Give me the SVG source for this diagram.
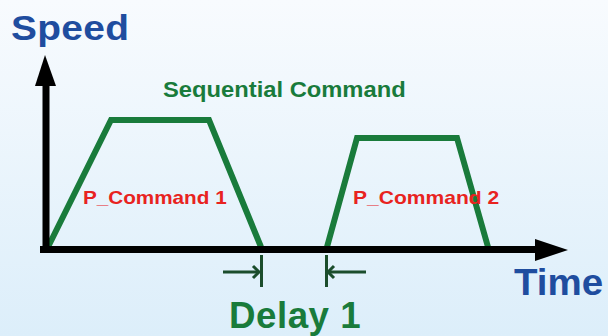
<svg xmlns="http://www.w3.org/2000/svg" width="608" height="336" viewBox="0 0 608 336">
<defs>
<linearGradient id="bg" x1="0" y1="0" x2="0" y2="1">
<stop offset="0" stop-color="#f8fbfe"/>
<stop offset="1" stop-color="#dceefa"/>
</linearGradient>
</defs>
<style>
.ax{fill:none;stroke:#000;stroke-width:7}
.ah{fill:#000}
.prof{fill:none;stroke:#197b3b;stroke-width:6;stroke-linejoin:miter}
.dm{fill:none;stroke:#1b4d2c;stroke-width:3}
.t{font-family:"Liberation Sans",Arial,sans-serif;font-weight:bold}
.blue{fill:#1f4d9f}
.green{fill:#197b3b}
.red{fill:#e8231f}
</style>
<rect width="608" height="336" fill="url(#bg)"/>
<g id="profile1">
<path class="prof" d="M48,247 L111,120 L209,120 L261,247"/>
</g>
<g id="profile2">
<path class="prof" d="M327,247 L357,138 L457,138 L488,247"/>
</g>
<g id="axes">
<line class="ax" x1="46" y1="253" x2="46" y2="82"/>
<polygon class="ah" points="45,55 35,86 56,86"/>
<line class="ax" x1="40" y1="249.5" x2="538" y2="249.5"/>
<polygon class="ah" points="568,250 535,239 535,261"/>
</g>
<g id="connectors">
<line class="dm" x1="223" y1="272" x2="259" y2="272"/>
<polyline class="dm" points="253,266 259,272 253,278"/>
<line class="dm" x1="261.5" y1="255" x2="261.5" y2="287"/>
<line class="dm" x1="328" y1="272" x2="366" y2="272"/>
<polyline class="dm" points="334,266 328,272 334,278"/>
<line class="dm" x1="326.5" y1="255" x2="326.5" y2="287"/>
</g>
<g id="label-speed"><text class="t blue" transform="translate(11,40) scale(1.08,1)" font-size="36" letter-spacing="0.3">Speed</text></g>
<g id="label-time"><text class="t blue" transform="translate(514,295) scale(1.07,1)" font-size="36">Time</text></g>
<g id="label-seq"><text class="t green" transform="translate(163,97) scale(1.08,1)" font-size="22">Sequential Command</text></g>
<g id="label-p1"><text class="t red" transform="translate(83,204) scale(1.15,1)" font-size="18">P_Command 1</text></g>
<g id="label-p2"><text class="t red" transform="translate(353,204) scale(1.17,1)" font-size="18">P_Command 2</text></g>
<g id="label-delay"><text class="t green" transform="translate(229,328) scale(1.02,1)" font-size="36" letter-spacing="0.5">Delay 1</text></g>
</svg>
